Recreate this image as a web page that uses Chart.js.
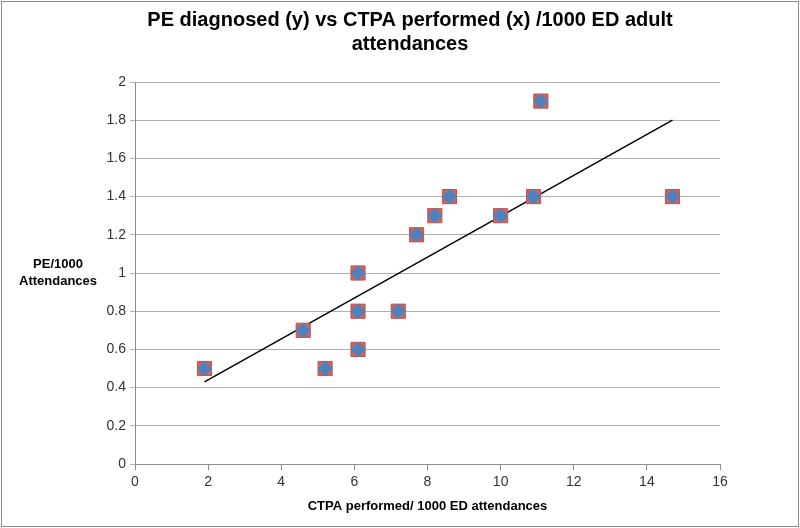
<!DOCTYPE html>
<html>
<head>
<meta charset="utf-8">
<script src="https://cdn.jsdelivr.net/npm/chart.js@4/dist/chart.umd.min.js"></script>
<style>
  html, body { margin: 0; padding: 0; background: #fff; }
  #wrap { width: 800px; height: 528px; }
</style>
</head>
<body>
<div id="wrap"><canvas id="scatterChart" width="800" height="528"></canvas></div>
<script>
// values
const ctpaRate = [1.9, 4.6, 5.2, 6.1, 6.1, 6.1, 7.2, 7.7, 8.2, 8.6, 10.0, 10.9, 11.1, 14.7];
const peRate   = [0.5, 0.7, 0.5, 1.0, 0.8, 0.6, 0.8, 1.2, 1.3, 1.4, 1.3, 1.4, 1.9, 1.4];
const trendX = [1.9, 14.7];
const trendY = [0.43, 1.80];
const xTicks = [0, 2, 4, 6, 8, 10, 12, 14, 16];
const yTicks = [0, 0.2, 0.4, 0.6, 0.8, 1, 1.2, 1.4, 1.6, 1.8, 2];

const points = ctpaRate.map((x, i) => ({ x: x, y: peRate[i] }));
const trend = trendX.map((x, i) => ({ x: x, y: trendY[i] }));

// white background, outer frame and the horizontal y-axis title
const frame = {
  id: "frame",
  beforeDraw(chart) {
    const c = chart.ctx;
    c.save();
    c.fillStyle = "#fff";
    c.fillRect(0, 0, chart.width, chart.height);
    c.strokeStyle = "#8c8c8c";
    c.lineWidth = 1;
    c.strokeRect(1.5, 1.5, chart.width - 3, chart.height - 3);
    c.restore();
  },
  afterDraw(chart) {
    const c = chart.ctx;
    c.save();
    c.fillStyle = "#000";
    c.font = "bold 13px 'Liberation Sans', Arial, sans-serif";
    c.textAlign = "center";
    c.textBaseline = "middle";
    c.fillText("PE/1000", 58, 264);
    c.fillText("Attendances", 58, 281);
    c.restore();
  }
};

new Chart(document.getElementById("scatterChart"), {
  type: "scatter",
  data: {
    datasets: [
      {
        label: "diamond",
        data: points,
        pointStyle: "rectRot",
        pointRadius: 7.5,
        backgroundColor: "#4f81bd",
        borderColor: "#4f81bd",
        borderWidth: 0,
        order: 0
      },
      {
        label: "square",
        data: points,
        pointStyle: "rect",
        pointRadius: 10,
        backgroundColor: "#c86664",
        borderColor: "#c0504d",
        borderWidth: 1,
        order: 1
      },
      {
        type: "line",
        label: "trend",
        data: trend,
        borderColor: "#000",
        borderWidth: 1.5,
        pointRadius: 0,
        fill: false,
        order: 2
      }
    ]
  },
  options: {
    responsive: false,
    animation: false,
    layout: { padding: { left: 100, right: 80, top: 0, bottom: 0 } },
    plugins: {
      legend: { display: false },
      tooltip: { enabled: false },
      title: {
        display: true,
        text: ["PE diagnosed (y) vs CTPA performed (x) /1000 ED adult", "attendances"],
        color: "#000",
        font: { family: "'Liberation Sans', Arial, sans-serif", size: 20, weight: "bold", lineHeight: 1.2 },
        padding: { top: 8, bottom: 26 }
      }
    },
    scales: {
      x: {
        type: "linear",
        min: 0,
        max: 16,
        afterBuildTicks: (scale) => { scale.ticks = xTicks.map(v => ({ value: v })); },
        afterFit: (scale) => { scale.height = 64; },
        grid: { drawOnChartArea: false, drawTicks: true, tickLength: 6, color: "#8c8c8c" },
        border: { color: "#8c8c8c" },
        ticks: { color: "#333", font: { family: "'Liberation Sans', Arial, sans-serif", size: 14 }, padding: 4 },
        title: {
          display: true,
          text: "CTPA performed/ 1000 ED attendances",
          color: "#000",
          font: { family: "'Liberation Sans', Arial, sans-serif", size: 13, weight: "bold" },
          padding: { top: 4, bottom: 14 }
        }
      },
      y: {
        type: "linear",
        min: 0,
        max: 2,
        afterBuildTicks: (scale) => { scale.ticks = yTicks.map(v => ({ value: v })); },
        afterFit: (scale) => { scale.width = 35; },
        grid: { color: "#b0b0b0", drawTicks: true, tickLength: 5 },
        border: { color: "#8c8c8c" },
        ticks: {
          color: "#333",
          font: { family: "'Liberation Sans', Arial, sans-serif", size: 14 },
          padding: 4,
          callback: (v) => String(Math.round(v * 10) / 10)
        }
      }
    }
  },
  plugins: [frame]
});
</script>
</body>
</html>
